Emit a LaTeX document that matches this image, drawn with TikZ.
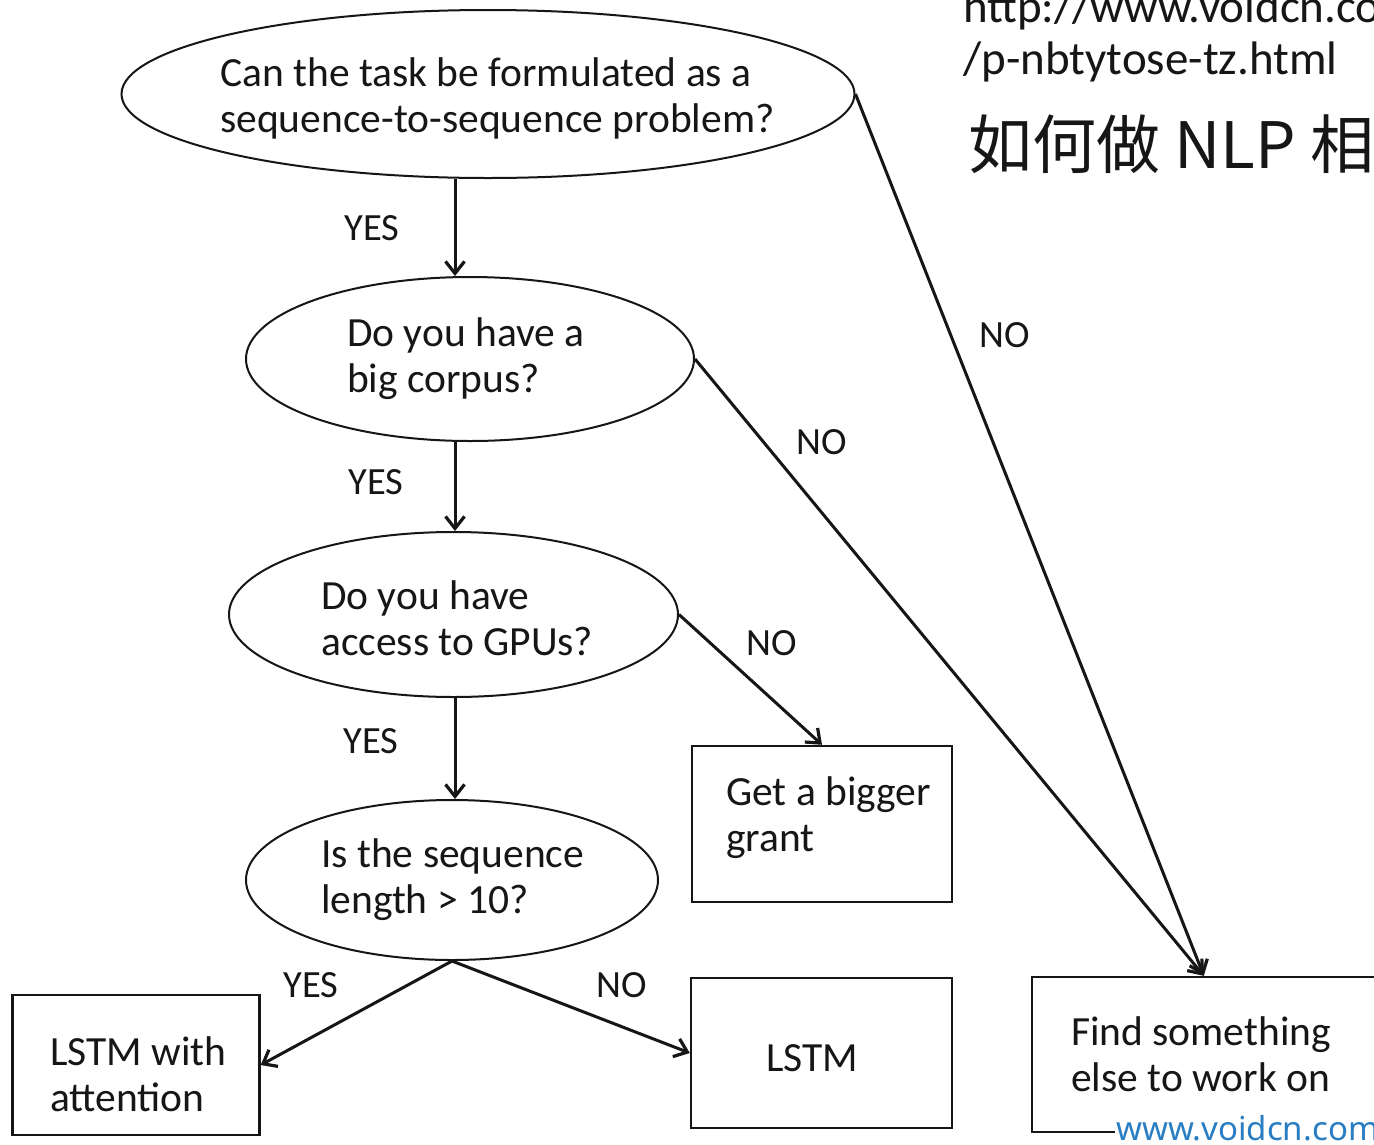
\documentclass[tikz,border=0pt]{standalone}
\usepackage{fontspec}
\setmainfont{Carlito}
\newfontfamily\cjkfont{Noto Sans CJK SC}
\newfontfamily\webfont{Noto Sans}
\usetikzlibrary{shapes.geometric,arrows.meta}
\definecolor{ink}{RGB}{22,22,22}
\definecolor{wmblue}{RGB}{40,125,195}
\begin{document}
\begin{tikzpicture}[x=1pt,y=-1pt,
  question/.style={ellipse,draw=ink,line width=2pt,inner sep=0pt},
  answer/.style={rectangle,draw=ink,line width=2.4pt,inner sep=0pt},
  body/.style={font=\fontsize{41.5}{46}\selectfont,text=ink,align=left,inner sep=0pt},
  tag/.style={font=\fontsize{38.5}{44}\selectfont,text=ink,inner sep=0pt},
  flow/.style={draw=ink,line width=3pt,-{Straight Barb[length=12pt,width=19pt,line width=3.2pt]}}
]
\clip (0,0) rectangle (1374,1144);
\fill[white] (0,0) rectangle (1374,1144);

% decision ellipses
\node[question,minimum width=733pt,minimum height=168pt] (q1) at (488,94) {};
\node[question,minimum width=448pt,minimum height=164pt] (q2) at (470,359) {};
\node[question,minimum width=449pt,minimum height=165pt] (q3) at (453.5,614.5) {};
\node[question,minimum width=412pt,minimum height=160pt] (q4) at (452,880) {};

\node[body,anchor=west] (q1t) at (220,98) {Can the task be formulated as a\\sequence-to-sequence problem?};
\node[body,anchor=west] (q2t) at (347,359) {Do you have a\\big corpus?};
\node[body,anchor=west] (q3t) at (321,618) {Do you have\\access to GPUs?};
\node[body,anchor=west] (q4t) at (321,880) {Is the sequence\\length > 10?};

% outcome boxes
\node[answer,minimum width=260pt,minimum height=156pt] (grant) at (822,824) {};
\node[answer,minimum width=247pt,minimum height=140pt] (attn) at (136,1065) {};
\node[answer,minimum width=261pt,minimum height=150pt] (lstm) at (821.5,1053) {};
\node[answer,minimum width=400pt,minimum height=155pt] (find) at (1232,1054.5) {};

\node[body,anchor=west] (grantt) at (726,818) {Get a bigger\\grant};
\node[body,anchor=west] (attnt) at (50,1074) {LSTM with\\attention};
\node[body] (lstmt) at (812,1058) {LSTM};
\node[body,anchor=west] (findt) at (1071,1054) {Find something\\else to work on};

% connectors
\coordinate (spine) at (455,0);
\coordinate (merge) at ([xshift=173pt]find.north west);
\draw[flow] (q1.south -| spine) -- (q2.north -| spine);
\draw[flow] (q2.south -| spine) -- (q3.north -| spine);
\draw[flow] (q3.south -| spine) -- (q4.north -| spine);
\draw[flow] (q1.east) -- (merge);
\draw[flow] (q2.east) -- (merge);
\draw[flow] (q3.east) -- (grant.north);
\draw[flow] (q4.south) -- (attn.east);
\draw[flow] (q4.south) -- (lstm.west);

% branch labels
\node[tag] (y1) at (372,228) {YES};
\node[tag] (y2) at (376,482) {YES};
\node[tag] (y3) at (371,741) {YES};
\node[tag] (y4) at (311,985) {YES};
\node[tag] (n1) at (1005,335) {NO};
\node[tag] (n2) at (822,442) {NO};
\node[tag] (n3) at (772,643) {NO};
\node[tag] (n4) at (622,985) {NO};

% header text
\node[font=\fontsize{47}{52}\selectfont,text=ink,align=left,anchor=west,inner sep=0pt] (url) at (963,36) {http://www.voidcn.co\\/p-nbtytose-tz.html};
\node[font=\cjkfont\fontsize{64}{70}\selectfont,text=ink,anchor=base west,inner sep=0pt] (title) at (968,168) {如何做 NLP 相};

% watermark over the lower border
\node[font=\webfont\fontsize{33}{36}\selectfont,text=wmblue,fill=white,inner sep=1pt,anchor=base west] (wm) at (1115,1140) {www.voidcn.com};
\end{tikzpicture}
\end{document}
